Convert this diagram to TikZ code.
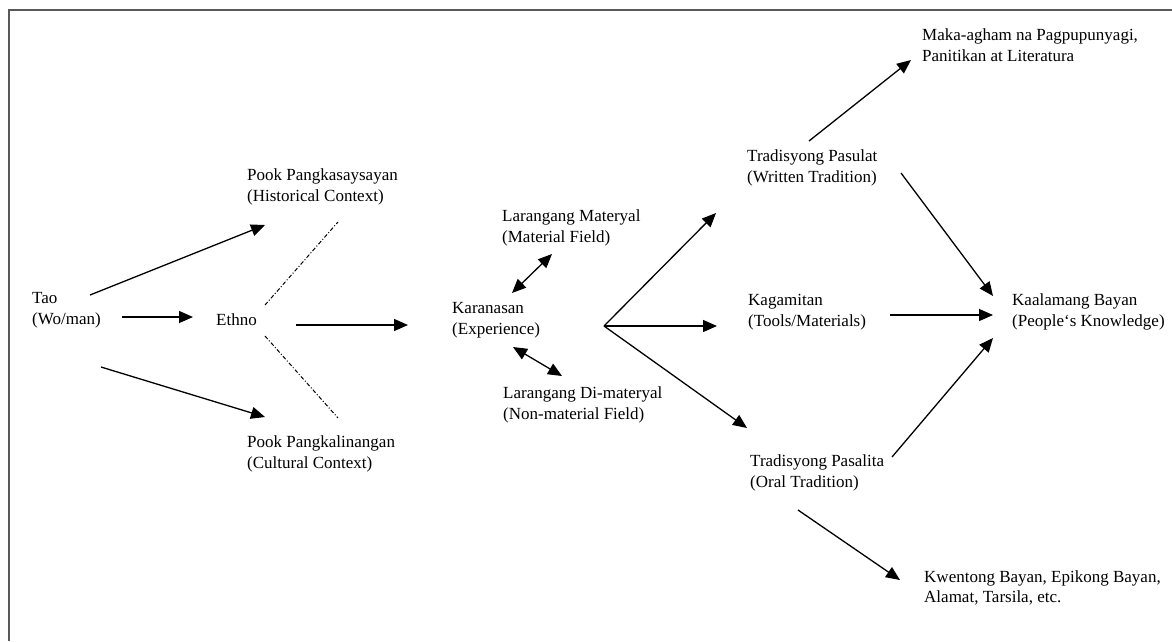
\documentclass[tikz,border=0pt]{standalone}
\usepackage{fontspec}
\setmainfont{Liberation Serif}
\usetikzlibrary{arrows.meta}
\begin{document}
\begin{tikzpicture}[x=1pt,y=-1pt,
  txt/.style={font=\fontsize{17}{20.5}\selectfont, align=left, inner sep=0pt, anchor=west},
  arr/.style={line width=1.3pt, -{Triangle[length=14pt,width=12pt]}},
  darr/.style={line width=1.3pt, {Triangle[length=14pt,width=12pt]}-{Triangle[length=14pt,width=12pt]}},
  dashdot/.style={line width=1pt, dash pattern=on 4pt off 2pt on 1pt off 2pt},
  frame/.style={line width=1.6pt, draw=black!65}]
\useasboundingbox (0,0) rectangle (1172,641);
\draw[frame] (9,641) -- (9,10) -- (1172,10);

% nodes
\node[txt] (tao) at (32,310) {Tao\\(Wo/man)};
\node[txt] (ethno) at (216,320) {Ethno};
\node[txt] (hist) at (247,187) {Pook Pangkasaysayan\\(Historical Context)};
\node[txt] (cult) at (247,454) {Pook Pangkalinangan\\(Cultural Context)};
\node[txt] (kar) at (452,320) {Karanasan\\(Experience)};
\node[txt] (mat) at (502,228) {Larangang Materyal\\(Material Field)};
\node[txt] (nonmat) at (503,405) {Larangang Di-materyal\\(Non-material Field)};
\node[txt] (pasulat) at (747,168) {Tradisyong Pasulat\\(Written Tradition)};
\node[txt] (kagam) at (748,312) {Kagamitan\\(Tools/Materials)};
\node[txt] (pasalita) at (750,473) {Tradisyong Pasalita\\(Oral Tradition)};
\node[txt] (maka) at (922,45) {Maka-agham na Pagpupunyagi,\\Panitikan at Literatura};
\node[txt] (kaal) at (1012,312) {Kaalamang Bayan\\(People`s Knowledge)};
\node[txt] (kwent) at (924,588) {Kwentong Bayan, Epikong Bayan,\\Alamat, Tarsila, etc.};

% connector end points
\coordinate (taoA) at (90,295);   \coordinate (histA) at (265,225);
\coordinate (taoB) at (122,317);  \coordinate (ethnoB) at (193,317);
\coordinate (taoC) at (101,367);  \coordinate (cultC) at (265,417);
\coordinate (ethD1) at (265,305); \coordinate (histD) at (338,222);
\coordinate (ethD2) at (265,336); \coordinate (cultD) at (338,418);
\coordinate (ethE) at (296,325);  \coordinate (karE) at (408,325);
\coordinate (karM) at (512,293);  \coordinate (matM) at (552,254);
\coordinate (karN) at (513,347);  \coordinate (nonN) at (562,376);
\coordinate (fan) at (604,326);
\coordinate (pasulatF) at (716,213);
\coordinate (kagamF) at (717,326);
\coordinate (pasalitaF) at (747,428);
\coordinate (pasulatG) at (809,141); \coordinate (makaG) at (911,60);
\coordinate (pasulatH) at (901,173); \coordinate (kaalH) at (993,296);
\coordinate (kagamI) at (890,315);   \coordinate (kaalI) at (993,315);
\coordinate (pasalitaJ) at (892,457); \coordinate (kaalJ) at (993,338);
\coordinate (pasalitaK) at (798,510); \coordinate (kwentK) at (900,580);

% connectors
\draw[arr] (taoA) -- (histA);
\draw[arr] (taoB) -- (ethnoB);
\draw[arr] (taoC) -- (cultC);
\draw[dashdot] (ethD1) -- (histD);
\draw[dashdot] (ethD2) -- (cultD);
\draw[arr] (ethE) -- (karE);
\draw[darr] (karM) -- (matM);
\draw[darr] (karN) -- (nonN);
\draw[arr] (fan) -- (pasulatF);
\draw[arr] (fan) -- (kagamF);
\draw[arr] (fan) -- (pasalitaF);
\draw[arr] (pasulatG) -- (makaG);
\draw[arr] (pasulatH) -- (kaalH);
\draw[arr] (kagamI) -- (kaalI);
\draw[arr] (pasalitaJ) -- (kaalJ);
\draw[arr] (pasalitaK) -- (kwentK);
\end{tikzpicture}
\end{document}
